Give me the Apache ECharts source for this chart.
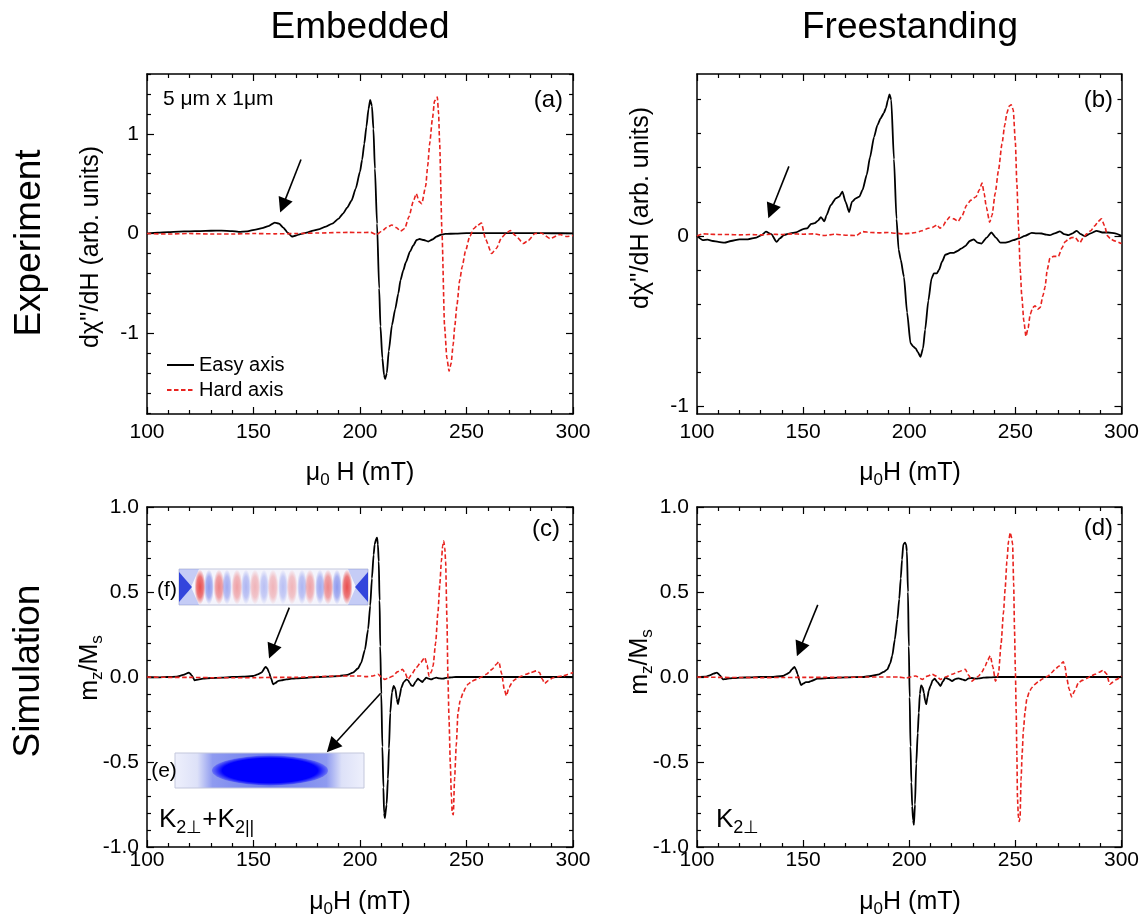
<!DOCTYPE html>
<html><head><meta charset="utf-8">
<script src="https://cdn.jsdelivr.net/npm/echarts@6/dist/echarts.min.js"></script>
<style>html,body{margin:0;padding:0;background:#fff}#c{width:1142px;height:919px}</style>
</head><body><div id="c"></div>
<script>
// ---------- DATA ----------
const xTickLabels = [100, 150, 200, 250, 300];
const xRange = [100, 300];
const yRangeA = [-1.81, 1.60];
const yRangeB = [-1.045, 0.95];
const yRangeCD = [-1, 1];
const yMajorA = [-1, 0, 1];
const yMinorA = [-1.8,-1.6,-1.4,-1.2,-0.8,-0.6,-0.4,-0.2,0.2,0.4,0.6,0.8,1.2,1.4,1.6];
const yMajorB = [-1, 0];
const yMinorB = [-0.8,-0.6,-0.4,-0.2,0.2,0.4,0.6,0.8];
const yMajorCD = [-1, -0.5, 0, 0.5, 1];
const yMinorCD = [-0.9,-0.8,-0.7,-0.6,-0.4,-0.3,-0.2,-0.1,0.1,0.2,0.3,0.4,0.6,0.7,0.8,0.9];

const aEasy = [[100,0],[105,0.01],[110,0.015],[115,0.02],[120,0.022],[125,0.025],[130,0.028],[135,0.03],[140,0.025],[143,0.017],[147,0.022],[151,0.04],[154,0.055],[157,0.075],[160,0.11],[162,0.1],[164,0.06],[166,0.01],[168,-0.03],[170,-0.02],[172,-0.005],[175,0.01],[178,0.03],[181,0.045],[184,0.07],[187,0.1],[190,0.15],[192,0.2],[194,0.26],[196,0.33],[198,0.45],[200,0.62],[201,0.74],[202,0.9],[203,1.07],[204,1.25],[204.8,1.34],[205.6,1.28],[206.3,1.05],[207,0.65],[208,0.1],[209,-0.55],[209.6,-0.93],[210.5,-1.25],[211.3,-1.42],[211.8,-1.46],[212.6,-1.4],[213.5,-1.18],[215,-0.92],[216.5,-0.76],[218,-0.6],[219,-0.47],[220.3,-0.37],[221.5,-0.29],[223.5,-0.18],[225,-0.12],[226.6,-0.065],[228,-0.055],[230,-0.065],[232,-0.08],[234,-0.06],[236,-0.03],[238,-0.012],[240,-0.004],[245,0],[250,0.005],[260,0.005],[270,0.004],[280,0.004],[290,0.003],[300,0.002]];
const aHard = [[100,0],[110,-0.005],[120,0],[130,-0.005],[140,-0.005],[150,0],[160,-0.003],[170,0],[180,0.005],[190,0.01],[195,0.012],[200,0.01],[205,0.012],[207.7,-0.01],[210,0.02],[212.5,0.06],[215,0.085],[217,0.06],[219,0.025],[221,0.05],[223,0.17],[225,0.32],[226.4,0.4],[227.8,0.32],[229,0.3],[230.8,0.47],[231.8,0.68],[232.7,0.9],[234,1.15],[235,1.33],[236.3,1.37],[236.9,1.2],[237.4,0.9],[238.5,0],[239.7,-0.93],[240.8,-1.25],[241.8,-1.38],[242.8,-1.3],[243.7,-1.12],[244.5,-0.93],[245.5,-0.72],[246.8,-0.47],[248,-0.33],[249.5,-0.18],[251.5,-0.03],[253.5,0.05],[255,0.08],[257,0.105],[259,-0.06],[261.8,-0.2],[264,-0.15],[266.5,-0.04],[268.5,0],[270.5,0.03],[273,-0.02],[276.7,-0.1],[279,-0.07],[282.2,0],[285,0.005],[289.2,-0.05],[293.9,-0.01],[297,-0.03],[300,-0.02]];

const bEasy = [[100,0],[102.8,-0.025],[105,-0.022],[107.5,-0.03],[110,-0.035],[113,-0.04],[116,-0.03],[120,-0.02],[124,-0.02],[128,-0.01],[130.5,0.005],[132.5,0.025],[135,0.01],[137.5,-0.035],[139,-0.015],[141,0.005],[144,0.015],[146.6,0.02],[150,0.04],[152,0.045],[153.7,0.07],[155.5,0.075],[157,0.09],[158.4,0.11],[160,0.085],[161,0.12],[163,0.18],[165.4,0.22],[167,0.23],[168.5,0.26],[170,0.2],[171.7,0.14],[173,0.2],[174.8,0.22],[176.5,0.23],[178,0.27],[180,0.36],[181.5,0.46],[183.4,0.58],[185,0.65],[186.5,0.69],[188,0.72],[189,0.75],[190,0.8],[190.7,0.83],[191.5,0.8],[192.8,0.45],[194,0.1],[195,-0.08],[196,-0.14],[197.5,-0.24],[199,-0.45],[200.6,-0.63],[202,-0.65],[203,-0.66],[204,-0.68],[205.3,-0.71],[206.5,-0.66],[207.5,-0.55],[209,-0.38],[210.5,-0.25],[211.6,-0.22],[213,-0.22],[214,-0.2],[215.5,-0.15],[217,-0.11],[219.4,-0.1],[221,-0.1],[222.5,-0.09],[224.5,-0.075],[226.4,-0.06],[228.5,-0.03],[230.4,-0.02],[232.2,-0.04],[234,-0.045],[236.5,-0.01],[238.7,0.02],[240.8,-0.01],[243,-0.04],[245,-0.04],[246.8,-0.035],[249,-0.025],[251.5,-0.015],[254.5,0],[257.7,0.018],[260,0.015],[262.4,0.014],[264.5,0.008],[266.3,0.004],[268.5,0.015],[271,0.027],[273,0.01],[275,0.004],[277,0.015],[278.9,0.03],[280.8,0.01],[282.8,-0.002],[285.5,0.015],[288.3,0.03],[291,0.02],[293.7,0.02],[297,0.015],[300,0]];
const bHard = [[100,0],[103,0.012],[106,0.01],[110,0.008],[115,0.008],[120,0.006],[125,0.008],[130,0.006],[135,0.01],[140,0.008],[145,0.012],[150,0.01],[155,0.012],[160,0.002],[165,0.01],[170,0.004],[175,0.002],[178,0.025],[182,0.02],[186,0.018],[190,0.02],[194,0.015],[197,0.012],[200,0.015],[203,0.02],[206,0.03],[209,0.045],[211,0.05],[213,0.064],[214.5,0.045],[216,0.06],[217.5,0.09],[219,0.11],[221,0.1],[223,0.085],[225,0.12],[227,0.18],[229,0.21],[231.5,0.23],[233,0.27],[234.3,0.31],[235.3,0.25],[236.3,0.17],[237.9,0.08],[239,0.12],[240.5,0.25],[242,0.38],[243.7,0.54],[245,0.65],[246,0.72],[247,0.76],[248,0.77],[249,0.74],[250,0.55],[250.7,0.31],[251.5,0.05],[252.3,-0.2],[253,-0.35],[254,-0.5],[255,-0.59],[256,-0.54],[257,-0.46],[258.2,-0.42],[259.3,-0.41],[260.5,-0.43],[261.7,-0.42],[263,-0.35],[264,-0.3],[265,-0.2],[266.3,-0.13],[268,-0.12],[270.3,-0.12],[272,-0.07],[273.4,-0.035],[275,-0.02],[276.5,-0.01],[278,-0.008],[280.4,-0.04],[282,-0.01],[283.6,0.012],[285.5,0.03],[287.5,0.06],[289,0.085],[290.6,0.1],[292,0.06],[293.4,0],[295,-0.02],[297,-0.03],[300,-0.045]];

const cEasy = [[100,0],[105,-0.002],[110,0],[114,0.002],[117,0.012],[119.7,0.026],[121,0.01],[122.4,-0.02],[124,-0.015],[126.3,-0.01],[130,-0.006],[135,-0.004],[140,0],[145,0.002],[149.8,0.006],[152,0.015],[153.7,0.026],[155.7,0.06],[156.5,0.05],[157.3,0.026],[158.3,-0.01],[159.2,-0.043],[160.3,-0.035],[161.5,-0.024],[163,-0.02],[165.4,-0.014],[168,-0.01],[170,-0.008],[175,-0.005],[180,0],[185,0.002],[190.4,0.006],[194,0.012],[196.7,0.026],[199,0.05],[200.6,0.085],[202.3,0.16],[203.8,0.28],[204.8,0.42],[205.6,0.58],[206.4,0.72],[206.9,0.78],[207.5,0.81],[208,0.82],[208.4,0.78],[208.8,0.68],[209.2,0.45],[209.5,0.18],[210,-0.1],[210.5,-0.41],[211,-0.65],[211.3,-0.8],[211.7,-0.83],[212,-0.83],[212.5,-0.75],[213.1,-0.6],[213.6,-0.42],[214.2,-0.21],[215,-0.09],[215.8,-0.053],[216.6,-0.07],[217.3,-0.13],[217.8,-0.16],[218.5,-0.12],[219.4,-0.063],[220.5,-0.03],[221.8,-0.014],[222.6,-0.02],[223.3,-0.034],[224.1,-0.05],[224.9,-0.053],[226,-0.03],[227.2,-0.01],[228.2,-0.02],[229.3,-0.03],[230.2,-0.015],[231.1,-0.004],[232.3,-0.01],[233.5,-0.014],[234.6,-0.008],[235.8,-0.004],[237.4,-0.008],[239,-0.01],[241,-0.004],[243,-0.002],[245,0],[250,0],[260,0],[270,0],[280,0],[290,0],[300,0]];
const cHard = [[100,0],[110,-0.002],[120,-0.002],[130,-0.004],[140,-0.004],[150,-0.004],[160,-0.002],[170,-0.002],[180,0.002],[190,0.006],[195,0.006],[200,0.006],[203,0.002],[206,0.006],[208.5,0.016],[210,0],[211.6,-0.014],[213.5,-0.005],[215.5,0.006],[217.5,0.03],[219,0.04],[220,0.045],[221.3,0.02],[222.5,-0.014],[224,0.01],[226.4,0.055],[228.5,0.085],[230.4,0.115],[231.5,0.07],[232.4,0.006],[233.5,0.03],[234.3,0.065],[235.5,0.2],[236.6,0.38],[237.5,0.55],[238.2,0.68],[238.8,0.77],[239.3,0.8],[239.8,0.76],[240.2,0.68],[240.8,0.35],[241.3,-0.014],[241.8,-0.25],[242.4,-0.51],[242.9,-0.7],[243.3,-0.8],[243.8,-0.81],[244.4,-0.6],[245.2,-0.4],[246,-0.21],[247,-0.14],[248.4,-0.093],[249.5,-0.065],[250.7,-0.043],[252.5,-0.025],[254.6,-0.014],[257,0],[259.3,0.016],[262,0.045],[264,0.075],[265.2,0.089],[266.5,0.02],[267.7,-0.07],[268.7,-0.11],[270,-0.06],[271.8,-0.024],[274,-0.005],[276,0.006],[278,0.016],[280,0.025],[282.8,0.036],[284.3,0.026],[285.5,-0.01],[286.7,-0.038],[288.5,-0.02],[290.6,-0.004],[293,0.002],[295.3,0.006],[297.5,0.015],[300,0.026]];

const dEasy = [[100,0],[104,0.002],[106,0.01],[107.8,0.02],[109.4,0.026],[110.8,0.01],[112.2,-0.014],[113.7,-0.012],[115.3,-0.008],[118,-0.006],[120,-0.004],[125,-0.002],[130,0],[135,0],[140.4,0.006],[142,0.015],[143.5,0.026],[144.7,0.045],[145.9,0.06],[146.6,0.045],[147.4,0.016],[148.2,-0.02],[149,-0.047],[150.2,-0.038],[151.3,-0.03],[152.5,-0.03],[153.7,-0.024],[156.8,-0.01],[160,-0.008],[162.3,-0.006],[170,-0.002],[177.9,0],[182,0.006],[185.8,0.016],[188,0.03],[189.7,0.045],[191,0.08],[192,0.125],[193.2,0.22],[194.4,0.34],[195.3,0.46],[196,0.58],[196.6,0.69],[197.2,0.78],[198,0.79],[198.5,0.78],[198.9,0.74],[199.4,0.5],[199.8,0.18],[200.2,-0.12],[200.6,-0.41],[201,-0.62],[201.4,-0.76],[201.8,-0.84],[202.2,-0.87],[202.7,-0.75],[203.3,-0.51],[204,-0.33],[204.5,-0.21],[205,-0.1],[205.6,-0.05],[206.3,-0.06],[206.9,-0.093],[207.5,-0.14],[208,-0.16],[208.6,-0.12],[209.2,-0.08],[210,-0.053],[211,-0.02],[212,-0.01],[213.3,-0.03],[214.7,-0.053],[215.9,-0.025],[217,-0.004],[218.6,-0.012],[220.2,-0.024],[221.7,-0.012],[223.3,-0.008],[224.9,-0.014],[226.4,-0.02],[228,-0.008],[229.6,-0.006],[231.2,-0.01],[232.7,-0.008],[235,-0.004],[238,-0.002],[242,0],[250,0],[260,0],[270,0],[280,0],[290,0],[300,0]];
const dHard = [[100,0],[110,-0.002],[120,-0.003],[130,-0.004],[140,-0.003],[150,-0.002],[160,-0.002],[170,-0.002],[180,0],[190,0],[195,0],[198.3,-0.006],[203,0.006],[206.1,-0.014],[208.5,0.005],[210.8,0.016],[212.7,0.005],[214.7,-0.014],[217,0],[220.2,0.016],[223,0.03],[226.4,0.045],[228,0.01],[229.6,-0.024],[231,-0.01],[232.7,0.006],[234.3,0.03],[235.8,0.065],[237,0.1],[238.2,0.125],[239.4,0.06],[240.6,-0.024],[241.3,-0.01],[242.1,0.026],[243.3,0.2],[244.4,0.38],[245.2,0.52],[246,0.68],[246.8,0.8],[247.6,0.85],[248.2,0.82],[248.7,0.78],[249.2,0.55],[249.6,0.28],[250,0.04],[250.4,-0.21],[250.7,-0.45],[251,-0.71],[251.4,-0.82],[251.8,-0.85],[252.2,-0.83],[252.7,-0.6],[253.2,-0.45],[253.8,-0.31],[254.6,-0.2],[255.4,-0.13],[256.5,-0.09],[257.7,-0.063],[259,-0.045],[260.8,-0.028],[263,-0.01],[265.5,0.006],[267,0.025],[268.7,0.045],[270.6,0.065],[272.6,0.089],[273.4,0.06],[274.2,-0.005],[275.3,-0.07],[276.5,-0.117],[278,-0.08],[279.7,-0.034],[281.5,-0.02],[283.6,-0.008],[285.5,0.004],[287.5,0.016],[289.5,0.028],[291.4,0.04],[292.9,0.02],[294.5,-0.043],[296,-0.03],[297.7,-0.014],[300,0.006]];

// annotation arrows in data coordinates: [tail, head]
const arrowsA = [[[172.3,0.742],[163.8,0.28]]];
const arrowsB = [[[143.3,0.408],[134.9,0.145]]];
const arrowsC = [[[166.8,0.408],[158.6,0.15]],[[209.7,-0.096],[186.8,-0.41]]];
const arrowsD = [[[156.9,0.424],[148.4,0.163]]];

// ---------- CHART ----------
const FONT = "'Liberation Sans', Arial, Helvetica, sans-serif";
const BLACK = '#000';
const RED = '#e8231f';

const panels = [
  {grid:{left:147,top:74,width:426,height:340}, yr:yRangeA, major:yMajorA, minor:yMinorA, fmt:v=>String(v), easy:aEasy, hard:aHard, xMargin:8, arrows:arrowsA},
  {grid:{left:697,top:74,width:426,height:340}, yr:yRangeB, major:yMajorB, minor:yMinorB, fmt:v=>String(v), easy:bEasy, hard:bHard, xMargin:8, arrows:arrowsB},
  {grid:{left:147,top:507,width:426,height:340}, yr:yRangeCD, major:yMajorCD, minor:yMinorCD, fmt:v=>v.toFixed(1), easy:cEasy, hard:cHard, xMargin:3, arrows:arrowsC},
  {grid:{left:697,top:507,width:426,height:340}, yr:yRangeCD, major:yMajorCD, minor:yMinorCD, fmt:v=>v.toFixed(1), easy:dEasy, hard:dHard, xMargin:3, arrows:arrowsD}
];

const axisLineStyle = {color:BLACK, width:1.5};
const tickLine = {color:BLACK, width:1.2};
const grid = [], xAxis = [], yAxis = [], series = [];

panels.forEach((p, g) => {
  grid.push(p.grid);
  const xb = {type:'value', gridIndex:g, min:xRange[0], max:xRange[1], interval:50,
    splitLine:{show:false}, axisLine:{show:true, onZero:false, lineStyle:axisLineStyle},
    axisTick:{show:true, inside:true, length:7, lineStyle:tickLine},
    minorTick:{show:true, splitNumber:5, length:4, lineStyle:tickLine}};
  xAxis.push(Object.assign({}, xb, {position:'bottom',
    axisLabel:{show:true, fontSize:21, color:BLACK, fontFamily:FONT, margin:p.xMargin, customValues:xTickLabels}}));
  xAxis.push(Object.assign({}, xb, {position:'top', axisLabel:{show:false}}));

  const yb = {type:'value', gridIndex:g, min:p.yr[0], max:p.yr[1], splitLine:{show:false}, minorTick:{show:false},
    axisLine:{show:true, onZero:false, lineStyle:axisLineStyle}};
  const majorTick = {show:true, inside:true, length:7, customValues:p.major, lineStyle:tickLine};
  const minorTickCfg = {show:true, inside:true, length:4, customValues:p.minor, lineStyle:tickLine};
  yAxis.push(Object.assign({}, yb, {position:'left', axisTick:majorTick,
    axisLabel:{show:true, customValues:p.major, formatter:p.fmt, fontSize:21, color:BLACK, fontFamily:FONT, margin:8}}));
  yAxis.push(Object.assign({}, yb, {position:'left', axisLine:{show:false}, axisTick:minorTickCfg, axisLabel:{show:false}}));
  yAxis.push(Object.assign({}, yb, {position:'right', axisTick:majorTick, axisLabel:{show:false}}));
  yAxis.push(Object.assign({}, yb, {position:'right', axisLine:{show:false}, axisTick:minorTickCfg, axisLabel:{show:false}}));

  series.push({type:'line', name:'Easy axis', xAxisIndex:2*g, yAxisIndex:4*g, data:p.easy, symbol:'none', showSymbol:false,
    smooth:0.2, smoothMonotone:'x', lineStyle:{color:BLACK, width:1.8}, itemStyle:{color:BLACK}, z:3, silent:true});
  series.push({type:'line', name:'Hard axis', xAxisIndex:2*g, yAxisIndex:4*g, data:p.hard, symbol:'none', showSymbol:false,
    smooth:0.2, smoothMonotone:'x', lineStyle:{color:RED, width:1.6, type:[4.5,2.5]}, itemStyle:{color:RED}, z:4, silent:true});
  series.push({type:'lines', coordinateSystem:'cartesian2d', xAxisIndex:2*g, yAxisIndex:4*g,
    data:p.arrows.map(a => ({coords:a})), symbol:['none','triangle'], symbolSize:[0,15],
    lineStyle:{color:BLACK, width:1.6, opacity:1, curveness:0}, z:6, silent:true});
});

// ---------- TEXT & INSETS ----------
const graphics = [];
const SUB = (size, pad) => ({fontSize:size, fontFamily:FONT, fill:BLACK, padding:[pad,0,0,0]});
function txt(x, y, text, size, o) {
  o = o || {};
  graphics.push({type:'text', x:x, y:y, rotation:o.rot || 0, z:100, silent:true,
    style:{text:text, fontSize:size, fontFamily:FONT, fill:BLACK, align:o.align || 'center', verticalAlign:'middle', rich:o.rich}});
}
const R = Math.PI / 2;
txt(360, 28, 'Embedded', 37);
txt(910, 28, 'Freestanding', 37);
txt(30, 243, 'Experiment', 37, {rot:R});
txt(29, 671, 'Simulation', 37, {rot:R});
txt(91, 247, "d\u03c7''/dH (arb. units)", 25, {rot:R});
txt(641, 208, "d\u03c7''/dH (arb. units)", 25, {rot:R});
txt(90, 668, 'm{s|z}/M{s|s}', 25, {rot:R, rich:{s:SUB(17,15)}});
txt(640, 662, 'm{s|z}/M{s|s}', 25, {rot:R, rich:{s:SUB(17,15)}});
txt(360, 473, '\u03bc{s|0} H (mT)', 25, {rich:{s:SUB(17,15)}});
txt(910, 473, '\u03bc{s|0}H (mT)', 25, {rich:{s:SUB(17,15)}});
txt(360, 902, '\u03bc{s|0}H (mT)', 25, {rich:{s:SUB(17,15)}});
txt(910, 902, '\u03bc{s|0}H (mT)', 25, {rich:{s:SUB(17,15)}});
txt(163, 99, '5 \u03bcm x 1\u03bcm', 21, {align:'left'});
txt(563, 100, '(a)', 24, {align:'right'});
txt(1113, 100, '(b)', 24, {align:'right'});
txt(560, 529, '(c)', 24, {align:'right'});
txt(1113, 528, '(d)', 24, {align:'right'});
txt(159, 820, 'K{s|2\u22a5}+K{s|2||}', 26, {align:'left', rich:{s:SUB(18,16)}});
txt(716, 820, 'K{s|2\u22a5}', 26, {align:'left', rich:{s:SUB(18,16)}});
txt(167, 590, '(f)', 21);
txt(164, 771, '(e)', 21);

// inset (f): stripe pattern
const fx = 179, fy = 569, fw = 189, fh = 36;
graphics.push({type:'rect', z:20, silent:true, shape:{x:fx, y:fy, width:fw, height:fh},
  style:{fill:'#f4f4fc', stroke:'#c3c7dc', lineWidth:1}});
function lens(cx, rgb, a, rx) {
  graphics.push({type:'circle', z:21, silent:true, x:cx, y:fy + fh/2, scaleX:rx/(fh/2 - 0.5),
    shape:{cx:0, cy:0, r:fh/2 - 0.5},
    style:{fill:new echarts.graphic.RadialGradient(0.5, 0.5, 0.5, [
      {offset:0, color:'rgba(' + rgb + ',' + a + ')'},
      {offset:0.6, color:'rgba(' + rgb + ',' + (a*0.75) + ')'},
      {offset:1, color:'rgba(' + rgb + ',0)'}])}});
}
const redLens = [[200,0.9],[219,0.6],[237,0.45],[255,0.35],[273,0.35],[292,0.35],[310,0.45],[328,0.6],[347,0.9]];
const blueLens = [[209,0.55],[227,0.45],[246,0.38],[264,0.32],[283,0.32],[302,0.38],[320,0.45],[337,0.55]];
redLens.forEach(r => lens(r[0], '232,60,60', r[1], 5.5));
blueLens.forEach(b => lens(b[0], '60,80,225', b[1], 5));
[[fx, 1], [fx + fw, -1]].forEach(([ex, s]) => {
  graphics.push({type:'polygon', z:22, silent:true, shape:{points:[[ex, fy],[ex + s*20, fy],[ex + s*12, fy + fh/2],[ex + s*20, fy + fh],[ex, fy + fh]]},
    style:{fill:'rgba(110,130,235,0.35)'}});
  graphics.push({type:'polygon', z:23, silent:true, shape:{points:[[ex, fy + 3],[ex + s*13, fy + fh/2],[ex, fy + fh - 3]]},
    style:{fill:'rgba(25,45,215,0.85)'}});
});

// inset (e): uniform mode
const ex0 = 175, ey0 = 753, ew = 189, eh = 35;
graphics.push({type:'rect', z:20, silent:true, shape:{x:ex0, y:ey0, width:ew, height:eh},
  style:{stroke:'#c3c7dc', lineWidth:1, fill:new echarts.graphic.LinearGradient(0, 0, 1, 0, [
    {offset:0, color:'#eef0fc'},{offset:0.12, color:'#dde1f8'},{offset:0.2, color:'#8f9bf0'},
    {offset:0.5, color:'#6c7aee'},{offset:0.8, color:'#8f9bf0'},{offset:0.88, color:'#dde1f8'},{offset:1, color:'#eef0fc'}])}});
graphics.push({type:'circle', z:21, silent:true, x:270, y:ey0 + eh/2, scaleX:58/15, shape:{cx:0, cy:0, r:15},
  style:{fill:new echarts.graphic.RadialGradient(0.5, 0.5, 0.5, [
    {offset:0, color:'#0000ff'},{offset:0.82, color:'#0000ff'},{offset:1, color:'rgba(0,0,255,0.25)'}])}});

const chart = echarts.init(document.getElementById('c'), null, {renderer:'canvas'});
chart.setOption({
  animation:false,
  backgroundColor:'#fff',
  grid:grid, xAxis:xAxis, yAxis:yAxis, series:series,
  legend:{data:['Easy axis','Hard axis'], left:161, top:350, orient:'vertical', itemGap:5, itemWidth:27, itemHeight:14,
    selectedMode:false, itemStyle:{opacity:0}, textStyle:{fontSize:20, fontFamily:FONT, color:BLACK}},
  graphic:{elements:graphics}
});
</script></body></html>
